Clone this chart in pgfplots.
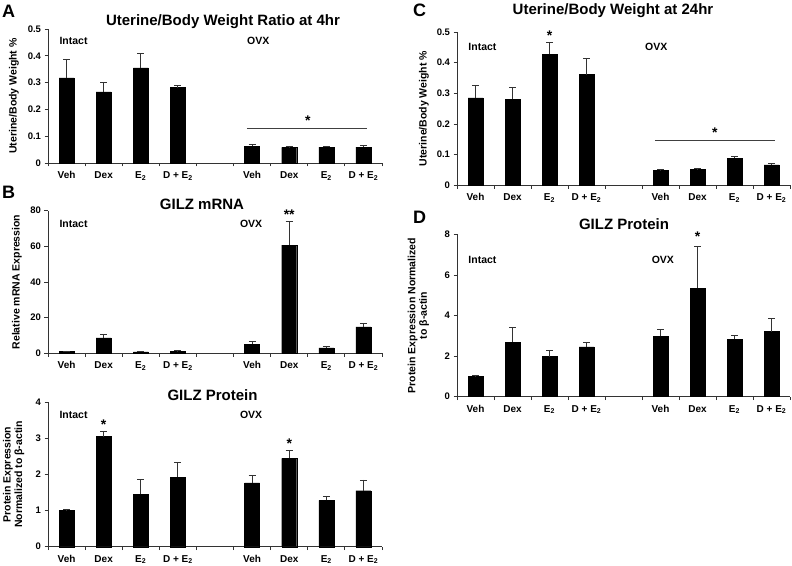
\documentclass[border=0pt]{standalone}
\usepackage{fontspec}
\setmainfont{Liberation Sans}
\usepackage{pgfplots}
\usepackage{pgfplotstable}
\pgfplotsset{compat=1.18}

% x: category slot (4 = gap between Intact and OVX), y: mean, e: upper error
\pgfplotstableread{
x y e
0 0.318 0.068
1 0.265 0.035
2 0.355 0.053
3 0.281 0.007
5 0.063 0.007
6 0.058 0.003
7 0.059 0.004
8 0.059 0.006
}\dataA
\pgfplotstableread{
x y e
0 1.0 0.3
1 8.7 1.8
2 0.8 0.4
3 1.0 0.4
5 5.1 1.3
6 60.7 13.5
7 3.1 0.7
8 14.8 1.9
}\dataBm
\pgfplotstableread{
x y e
0 1.00 0.02
1 3.05 0.15
2 1.45 0.42
3 1.93 0.41
5 1.77 0.21
6 2.45 0.21
7 1.28 0.11
8 1.55 0.30
}\dataBp
\pgfplotstableread{
x y e
0 0.285 0.040
1 0.280 0.038
2 0.427 0.040
3 0.361 0.054
5 0.048 0.003
6 0.051 0.005
7 0.089 0.004
8 0.067 0.004
}\dataC
\pgfplotstableread{
x y e
0 1.00 0.03
1 2.69 0.71
2 1.98 0.32
3 2.45 0.21
5 2.97 0.34
6 5.34 2.08
7 2.82 0.20
8 3.21 0.64
}\dataD

\pgfplotsset{
  panel/.style={
    scale only axis, width=334pt, anchor=south west, clip=false,
    axis x line=bottom, axis y line=left,
    axis line style={-, line width=0.8pt, black!80},
    xmin=-0.5, xmax=8.5, ymin=0,
    xtick={0,1,2,3,5,6,7,8},
    xticklabels={Veh,Dex,E\textsubscript{2},D + E\textsubscript{2},Veh,Dex,E\textsubscript{2},D + E\textsubscript{2}},
    minor xtick={-0.5,0.5,...,8.5},
    tick align=outside,
    major tick length=3.5pt, minor tick length=3.5pt,
    tick style={line width=0.8pt, black!80},
    major x tick style={draw=none},
    xticklabel style={font=\fontsize{10}{12}\selectfont\bfseries, text height=7.5pt, text depth=2pt, yshift=-1pt},
    yticklabel style={font=\fontsize{9.5}{11}\selectfont\bfseries},
    /pgf/number format/assume math mode=true,
    ylabel style={font=\fontsize{10.5}{11.5}\selectfont\bfseries, anchor=center, align=center},
  },
  bars/.style={ybar, bar width=15pt, fill=black, draw=black, line width=0.4pt,
    error bars/.cd, y dir=plus, y explicit,
    error bar style={line width=0.8pt, black!80},
    error mark options={rotate=90, line width=0.8pt, black!80, mark size=3.5pt}},
}
\tikzset{
  grp/.style={font=\fontsize{10.5}{12}\selectfont\bfseries, anchor=base west, inner sep=0pt},
  ast/.style={font=\fontsize{14}{14}\selectfont\bfseries, anchor=center, yshift=-3pt, inner sep=0pt},
}

\begin{document}
\begin{tikzpicture}
\useasboundingbox (0,0) rectangle (792pt,565pt);

% ---------- Panel A ----------
\begin{axis}[panel, at={(48pt,402pt)}, height=134pt, ymax=0.5,
  ytick={0,0.1,0.2,0.3,0.4,0.5},
  yticklabel style={/pgf/number format/fixed, /pgf/number format/precision=1},
  ylabel={Uterine/Body Weight \%},
  ylabel style={at={(axis description cs:-0.102,0.5)}}]
\addplot[bars] table[x=x, y=y, y error=e] {\dataA};
\node[grp] at (axis cs:-0.195,0.443) {Intact};
\node[grp] at (axis cs:4.86,0.443) {OVX};
\draw[black!75, line width=0.8pt] (axis cs:4.86,0.128) -- (axis cs:8.1,0.128);
\node[ast] at (axis cs:6.5,0.170) {*};
\end{axis}

% ---------- Panel B: mRNA ----------
\begin{axis}[panel, at={(48pt,211.7pt)}, height=142.6pt, ymax=80,
  ytick={0,20,40,60,80},
  ylabel={Relative mRNA Expression},
  ylabel style={at={(axis description cs:-0.093,0.5)}}]
\addplot[bars] table[x=x, y=y, y error=e] {\dataBm};
\node[grp] at (axis cs:-0.195,70.7) {Intact};
\node[grp] at (axis cs:4.67,70.7) {OVX};
\node[ast] at (axis cs:6,79.4) {**};
\end{axis}

% ---------- Panel B: protein ----------
\begin{axis}[panel, at={(48pt,18.3pt)}, height=144.4pt, ymax=4,
  ytick={0,1,2,3,4},
  ylabel={Protein Expression\\Normalized to β-actin},
  ylabel style={at={(axis description cs:-0.103,0.5)}}]
\addplot[bars] table[x=x, y=y, y error=e] {\dataBp};
\node[grp] at (axis cs:-0.195,3.56) {Intact};
\node[grp] at (axis cs:4.67,3.56) {OVX};
\node[ast] at (axis cs:1,3.46) {*};
\node[ast] at (axis cs:6,2.94) {*};
\end{axis}

% ---------- Panel C ----------
\begin{axis}[panel, at={(457pt,379.7pt)}, width=333pt, height=153.3pt, ymax=0.5,
  ytick={0,0.1,0.2,0.3,0.4,0.5},
  yticklabel style={/pgf/number format/fixed, /pgf/number format/precision=1},
  ylabel={Uterine/Body Weight \%},
  ylabel style={at={(axis description cs:-0.099,0.5)}}]
\addplot[bars] table[x=x, y=y, y error=e] {\dataC};
\node[grp] at (axis cs:-0.195,0.44) {Intact};
\node[grp] at (axis cs:4.58,0.44) {OVX};
\node[ast] at (axis cs:2,0.497) {*};
\draw[black!75, line width=0.8pt] (axis cs:4.85,0.145) -- (axis cs:8.09,0.145);
\node[ast] at (axis cs:6.47,0.183) {*};
\end{axis}

% ---------- Panel D ----------
\begin{axis}[panel, at={(457pt,168.3pt)}, width=333pt, height=162.4pt, ymax=8,
  ytick={0,2,4,6,8},
  ylabel={Protein Expression Normalized\\to β-actin},
  ylabel style={at={(axis description cs:-0.116,0.5)}}]
\addplot[bars] table[x=x, y=y, y error=e] {\dataD};
\node[grp] at (axis cs:-0.195,6.57) {Intact};
\node[grp] at (axis cs:4.76,6.57) {OVX};
\node[ast] at (axis cs:6,8.03) {*};
\end{axis}

% ---------- Titles and panel letters ----------
\begin{scope}[every node/.style={anchor=base, font=\fontsize{15}{18}\selectfont\bfseries, inner sep=0pt}]
\node at (223pt,539pt) {Uterine/Body Weight Ratio at 4hr};
\node at (202pt,355pt) {GILZ mRNA};
\node at (212.5pt,164pt) {GILZ Protein};
\node at (613pt,550.7pt) {Uterine/Body Weight at 24hr};
\node at (624pt,335pt) {GILZ Protein};
\end{scope}
\begin{scope}[every node/.style={anchor=base west, font=\fontsize{18}{20}\selectfont\bfseries, inner sep=0pt}]
\node at (2pt,547pt) {A};
\node at (2pt,366.7pt) {B};
\node at (413pt,548.3pt) {C};
\node at (413pt,341.7pt) {D};
\end{scope}
\end{tikzpicture}
\end{document}
